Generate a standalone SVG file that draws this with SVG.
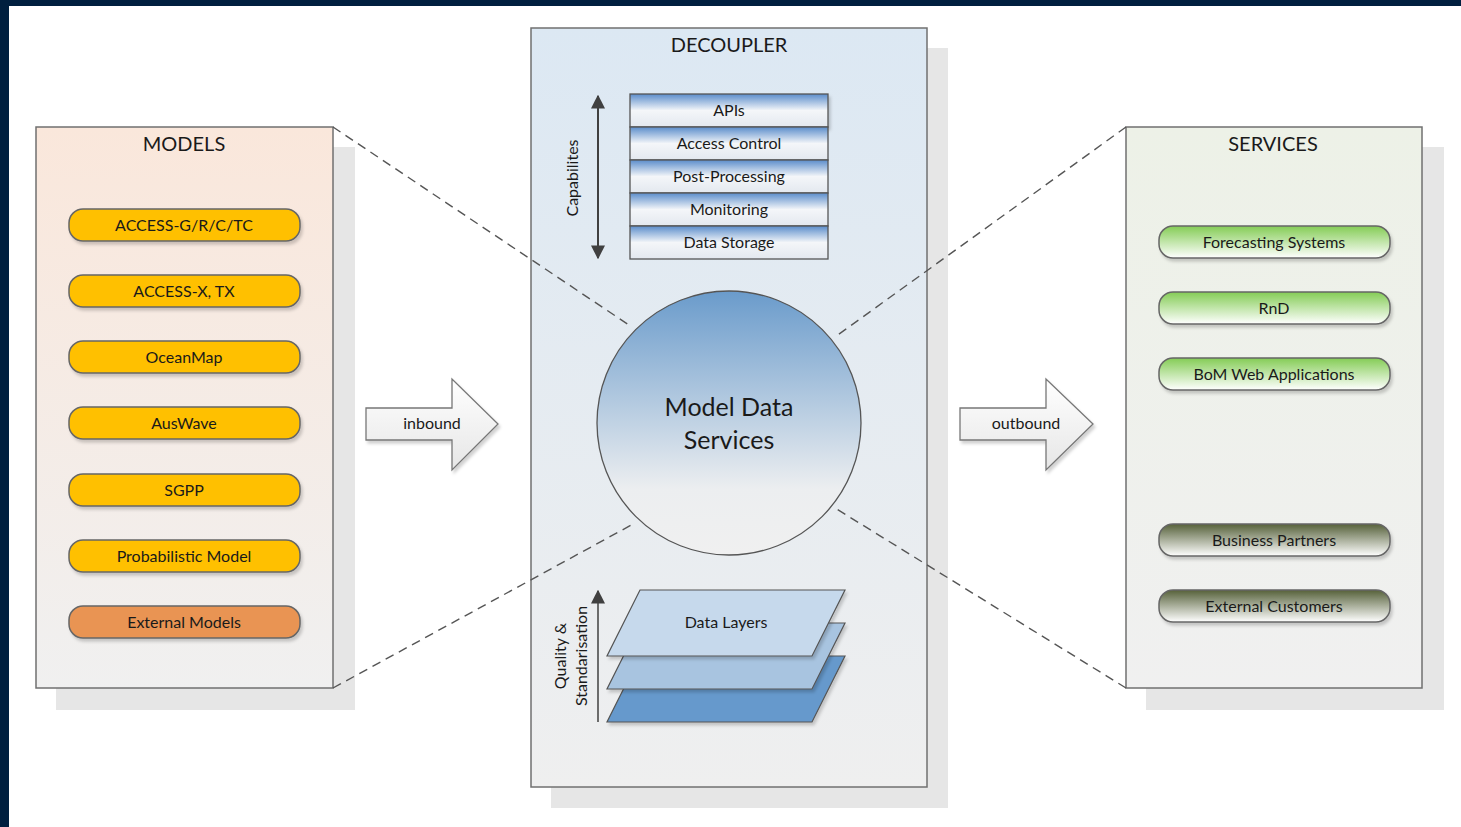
<svg xmlns="http://www.w3.org/2000/svg" width="1461" height="827" viewBox="0 0 1461 827">
<defs>
<linearGradient id="gModels" x1="0" y1="0" x2="0" y2="1"><stop offset="0" stop-color="#fae7db"/><stop offset="1" stop-color="#f0f0f0"/></linearGradient>
<linearGradient id="gDec" x1="0" y1="0" x2="0" y2="1"><stop offset="0" stop-color="#dce8f3"/><stop offset="1" stop-color="#efefef"/></linearGradient>
<linearGradient id="gServ" x1="0" y1="0" x2="0" y2="1"><stop offset="0" stop-color="#edf1e7"/><stop offset="1" stop-color="#f0f0f0"/></linearGradient>
<linearGradient id="gGreen" x1="0" y1="0" x2="0" y2="1"><stop offset="0" stop-color="#84cc55"/><stop offset="1" stop-color="#ffffff"/></linearGradient>
<linearGradient id="gOlive" x1="0" y1="0" x2="0" y2="1"><stop offset="0" stop-color="#56613a"/><stop offset="1" stop-color="#ffffff"/></linearGradient>
<linearGradient id="gCap" x1="0" y1="0" x2="0" y2="1"><stop offset="0" stop-color="#5b8dcb"/><stop offset="0.5" stop-color="#f4f6f9"/><stop offset="1" stop-color="#e3e8ef"/></linearGradient>
<linearGradient id="gCircle" x1="0" y1="0" x2="0" y2="1"><stop offset="0" stop-color="#6a9bcb"/><stop offset="0.75" stop-color="#eceef0"/><stop offset="1" stop-color="#f0f0f0"/></linearGradient>
<linearGradient id="gArrow" x1="0" y1="0" x2="0" y2="1"><stop offset="0" stop-color="#ffffff"/><stop offset="1" stop-color="#e6e6e6"/></linearGradient>
<marker id="ah" viewBox="0 0 10 10" refX="9" refY="5" markerWidth="14" markerHeight="14" markerUnits="userSpaceOnUse" orient="auto-start-reverse"><path d="M0,0 L10,5 L0,10 z" fill="#404040"/></marker>
<filter id="sh" x="-10%" y="-30%" width="130%" height="180%"><feDropShadow dx="2" dy="3" stdDeviation="1.5" flood-color="#000" flood-opacity="0.18"/></filter>
</defs>
<style>
text{font-family:Lato,"Open Sans","Liberation Sans",sans-serif;fill:#1a1a1a;text-anchor:middle;dominant-baseline:central}
.title{font-size:20px}
.lbl{font-size:16px}
.pill{stroke:#666;stroke-width:1.5}
.cap{fill:url(#gCap);stroke:#555;stroke-width:1.3}
.shadow{fill:#e6e6e6}
.box{stroke:#707070;stroke-width:1.5}
.dash{stroke:#555;stroke-width:1.4;stroke-dasharray:9 6;fill:none}
.arr{fill:url(#gArrow);stroke:#777;stroke-width:1.3}
.layer{stroke:#555;stroke-width:1.2}
</style>
<rect x="0" y="0" width="1461" height="827" fill="#001f3f"/>
<rect x="9" y="6" width="1452" height="821" fill="#ffffff"/>

<g id="models">
<rect class="shadow" x="56" y="147" width="299" height="563"/>
<rect class="box" x="36" y="127" width="297" height="561" fill="url(#gModels)"/>
<text class="title" x="184" y="143">MODELS</text>
</g>
<g id="decoupler">
<rect class="shadow" x="551" y="48" width="397" height="760"/>
<rect class="box" x="531" y="28" width="396" height="759" fill="url(#gDec)"/>
<text class="title" x="729" y="44">DECOUPLER</text>
</g>
<g id="services">
<rect class="shadow" x="1146" y="147" width="298" height="563"/>
<rect class="box" x="1126" y="127" width="296" height="561" fill="url(#gServ)"/>
<text class="title" x="1273" y="143">SERVICES</text>
</g>

<g id="connectors">
<line class="dash" x1="333" y1="127" x2="632" y2="327"/>
<line class="dash" x1="333" y1="688" x2="635" y2="523"/>
<line class="dash" x1="1126" y1="127" x2="835" y2="337"/>
<line class="dash" x1="1126" y1="688" x2="835" y2="508"/>
</g>

<g id="model-pills">
<g id="access-g"><rect class="pill" x="69" y="209" width="231" height="32" rx="14" fill="#ffc000" filter="url(#sh)"/><text class="lbl" x="184" y="224">ACCESS-G/R/C/TC</text></g>
<g id="access-x"><rect class="pill" x="69" y="275" width="231" height="32" rx="14" fill="#ffc000" filter="url(#sh)"/><text class="lbl" x="184" y="290">ACCESS-X, TX</text></g>
<g id="oceanmap"><rect class="pill" x="69" y="341" width="231" height="32" rx="14" fill="#ffc000" filter="url(#sh)"/><text class="lbl" x="184" y="356">OceanMap</text></g>
<g id="auswave"><rect class="pill" x="69" y="407" width="231" height="32" rx="14" fill="#ffc000" filter="url(#sh)"/><text class="lbl" x="184" y="422">AusWave</text></g>
<g id="sgpp"><rect class="pill" x="69" y="474" width="231" height="32" rx="14" fill="#ffc000" filter="url(#sh)"/><text class="lbl" x="184" y="489">SGPP</text></g>
<g id="probabilistic"><rect class="pill" x="69" y="540" width="231" height="32" rx="14" fill="#ffc000" filter="url(#sh)"/><text class="lbl" x="184" y="555">Probabilistic Model</text></g>
<g id="external-models"><rect class="pill" x="69" y="606" width="231" height="32" rx="14" fill="#e99452" filter="url(#sh)"/><text class="lbl" x="184" y="621">External Models</text></g>
</g>

<g id="service-pills">
<g id="forecasting"><rect class="pill" x="1159" y="226" width="231" height="32" rx="14" fill="url(#gGreen)" filter="url(#sh)"/><text class="lbl" x="1274" y="241">Forecasting Systems</text></g>
<g id="rnd"><rect class="pill" x="1159" y="292" width="231" height="32" rx="14" fill="url(#gGreen)" filter="url(#sh)"/><text class="lbl" x="1274" y="307">RnD</text></g>
<g id="bom"><rect class="pill" x="1159" y="358" width="231" height="32" rx="14" fill="url(#gGreen)" filter="url(#sh)"/><text class="lbl" x="1274" y="373">BoM Web Applications</text></g>
<g id="business"><rect class="pill" x="1159" y="524" width="231" height="32" rx="14" fill="url(#gOlive)" filter="url(#sh)"/><text class="lbl" x="1274" y="539">Business Partners</text></g>
<g id="customers"><rect class="pill" x="1159" y="590" width="231" height="32" rx="14" fill="url(#gOlive)" filter="url(#sh)"/><text class="lbl" x="1274" y="605">External Customers</text></g>
</g>

<g id="capabilities">
<rect class="cap" x="630" y="94" width="198" height="33" filter="url(#sh)"/><text class="lbl" x="729" y="109">APIs</text>
<rect class="cap" x="630" y="127" width="198" height="33"/><text class="lbl" x="729" y="142">Access Control</text>
<rect class="cap" x="630" y="160" width="198" height="33"/><text class="lbl" x="729" y="175">Post-Processing</text>
<rect class="cap" x="630" y="193" width="198" height="33"/><text class="lbl" x="729" y="208">Monitoring</text>
<rect class="cap" x="630" y="226" width="198" height="33"/><text class="lbl" x="729" y="241">Data Storage</text>
<line x1="598" y1="96" x2="598" y2="258" stroke="#404040" stroke-width="2" marker-start="url(#ah)" marker-end="url(#ah)"/>
<text class="lbl" transform="translate(571,178) rotate(-90)">Capabilites</text>
</g>

<g id="model-data-services">
<circle cx="729" cy="423" r="132" fill="url(#gCircle)" stroke="#555" stroke-width="1.3"/>
<text x="729" y="406" style="font-size:25px">Model Data</text>
<text x="729" y="439" style="font-size:25px">Services</text>
</g>

<g id="data-layers">
<polygon class="layer" points="640,656 845,656 812,722 607,722" fill="#6699cc" filter="url(#sh)"/>
<polygon class="layer" points="640,623 845,623 812,689 607,689" fill="#a8c4e0" filter="url(#sh)"/>
<polygon class="layer" points="640,590 845,590 812,656 607,656" fill="#c6d9ec" filter="url(#sh)"/>
<text class="lbl" x="726" y="621">Data Layers</text>
<line x1="598" y1="722" x2="598" y2="591" stroke="#404040" stroke-width="1.5" marker-end="url(#ah)"/>
<text class="lbl" transform="translate(559,656) rotate(-90)">Quality &amp;</text>
<text class="lbl" transform="translate(580,656) rotate(-90)">Standarisation</text>
</g>

<g id="inbound">
<polygon class="arr" points="366,408 452,408 452,379 498,424 452,470 452,440 366,440" filter="url(#sh)"/>
<text class="lbl" x="432" y="422">inbound</text>
</g>
<g id="outbound">
<polygon class="arr" points="960,408 1046,408 1046,379 1093,424 1046,470 1046,440 960,440" filter="url(#sh)"/>
<text class="lbl" x="1026" y="422">outbound</text>
</g>
</svg>
